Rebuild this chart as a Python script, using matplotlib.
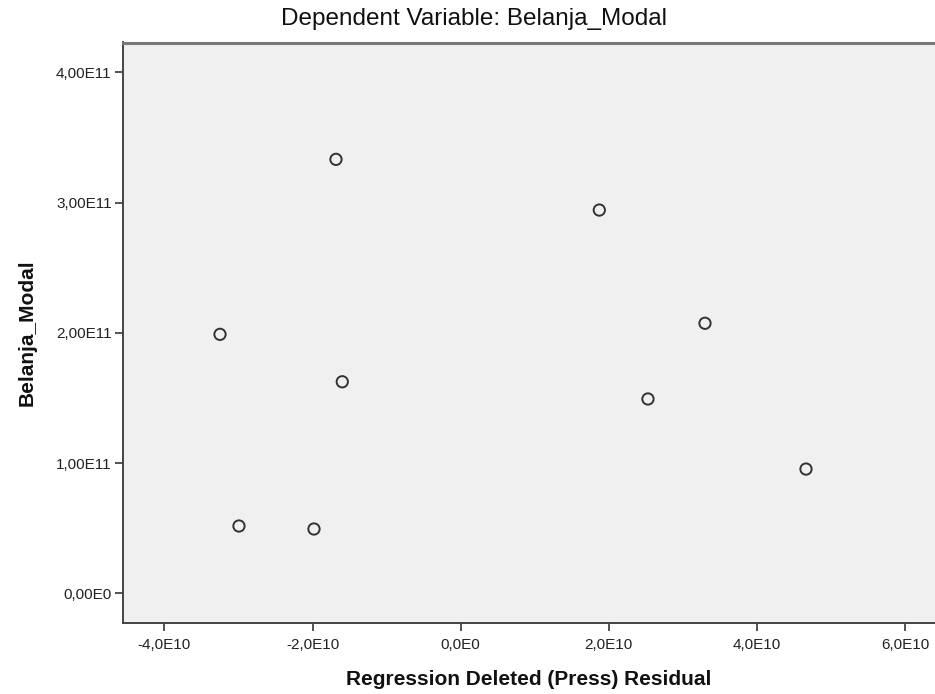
import matplotlib
matplotlib.use("Agg")
import matplotlib.pyplot as plt

# Data
press_residual = [-1.684e10, 1.872e10, 3.299e10, -3.250e10, -1.599e10, 2.529e10, 4.663e10, -2.994e10, -1.981e10]
belanja_modal = [3.332e11, 2.943e11, 2.074e11, 1.989e11, 1.625e11, 1.493e11, 0.955e11, 0.518e11, 0.495e11]

x_ticks = [-4e10, -2e10, 0, 2e10, 4e10, 6e10]
x_tick_labels = ["-4,0E10", "-2,0E10", "0,0E0", "2,0E10", "4,0E10", "6,0E10"]
y_ticks = [0, 1e11, 2e11, 3e11, 4e11]
y_tick_labels = ["0,00E0", "1,00E11", "2,00E11", "3,00E11", "4,00E11"]

plt.rcParams['font.family'] = ['Liberation Sans', 'DejaVu Sans']

fig = plt.figure(figsize=(9.35, 6.94), dpi=100)
ax = fig.add_axes([122.7/935, (694-622.5)/694, 1 - 122.7/935, (622.5-42.5)/694])
ax.set_facecolor('#F0F0F0')

ax.scatter(press_residual, belanja_modal, s=66, facecolors='none',
           edgecolors='#333333', linewidths=1.4, zorder=3)

ax.set_xlim(-4.564e10, 6.405e10)
ax.set_ylim(-0.2226e11, 4.229e11)

ax.set_xticks(x_ticks)
ax.set_xticklabels(x_tick_labels)
ax.set_yticks(y_ticks)
ax.set_yticklabels(y_tick_labels)

ax.tick_params(axis='both', direction='out', length=6, width=1.3, color='#444444',
               labelsize=11, labelcolor='#222222', pad=2)
ax.tick_params(axis='x', pad=5)

for side in ['left', 'bottom']:
    ax.spines[side].set_color('#444444')
    ax.spines[side].set_linewidth(1.4)
ax.spines['top'].set_color('#777777')
ax.spines['top'].set_linewidth(2.2)
ax.spines['right'].set_visible(False)

ax.set_xlabel("Regression Deleted (Press) Residual", fontsize=15, fontweight='bold',
              labelpad=13, color='#111111')
ax.set_ylabel("Belanja_Modal", fontsize=15, fontweight='bold', labelpad=14, color='#111111')

fig.text(474/935, 1 - 19/694, "Dependent Variable: Belanja_Modal", ha='center', va='center',
         fontsize=17.5, color='#111111')

fig.savefig("out.png", dpi=100, facecolor='white')
